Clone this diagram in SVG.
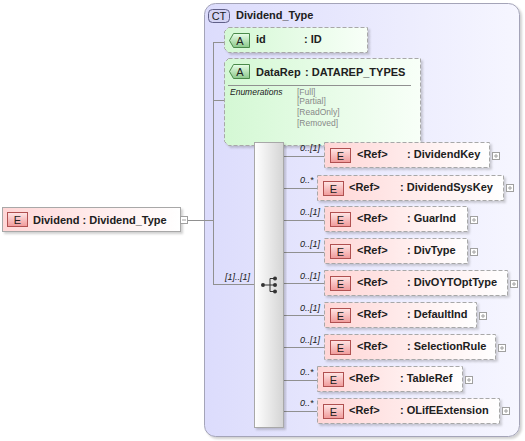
<svg xmlns="http://www.w3.org/2000/svg" width="525" height="441" viewBox="0 0 525 441">
<defs>
<linearGradient id="gCT" x1="0" y1="0" x2="1" y2="0"><stop offset="0" stop-color="#dcdcfc"/><stop offset="1" stop-color="#f6f6ff"/></linearGradient>
<linearGradient id="gEl" x1="0" y1="0" x2="1" y2="0"><stop offset="0" stop-color="#ffd6d6"/><stop offset="1" stop-color="#ffffff"/></linearGradient>
<linearGradient id="gAt" x1="0" y1="0" x2="1" y2="0"><stop offset="0" stop-color="#d4f8d4"/><stop offset="1" stop-color="#f8fff8"/></linearGradient>
<linearGradient id="gEb" x1="0" y1="0" x2="0" y2="1"><stop offset="0" stop-color="#ffe6e6"/><stop offset="1" stop-color="#f09a9a"/></linearGradient>
<linearGradient id="gAb" x1="0" y1="0" x2="0" y2="1"><stop offset="0" stop-color="#e8ffe8"/><stop offset="1" stop-color="#8cc88c"/></linearGradient>
<linearGradient id="gSeq" x1="0" y1="0" x2="1" y2="0"><stop offset="0" stop-color="#ffffff"/><stop offset="1" stop-color="#d4d4d4"/></linearGradient>
<filter id="sh" x="-5%" y="-5%" width="115%" height="120%"><feDropShadow dx="2" dy="2" stdDeviation="1.2" flood-color="#000" flood-opacity="0.18"/></filter>
</defs>
<style>
.t{font-family:"Liberation Sans",Arial,sans-serif;font-size:11px;font-weight:bold;fill:#202020}
.b{font-family:"Liberation Sans",Arial,sans-serif;font-size:11px;fill:#202020}
.m{font-family:"Liberation Sans",Arial,sans-serif;font-size:9px;font-style:italic;fill:#202020}
.en{font-family:"Liberation Sans",Arial,sans-serif;font-size:8.5px;fill:#888888}
.enl{font-family:"Liberation Sans",Arial,sans-serif;font-size:8.5px;font-style:italic;fill:#202020}
.el{fill:url(#gEl);stroke:#a8a8a8;stroke-dasharray:4,2;filter:url(#sh)}
.at{fill:url(#gAt);stroke:#a8a8a8;stroke-dasharray:4,2;filter:url(#sh)}
.eb{fill:url(#gEb);stroke:#b05050;stroke-width:1}
.ab{fill:url(#gAb);stroke:#4a8a4a;stroke-width:1}
.ln{stroke:#909090;stroke-width:1;fill:none}
.pm{fill:#ffffff;stroke:#a0a0a0;stroke-width:1}
.pl{stroke:#a0a0a0;stroke-width:1}
</style>

<g id="ct-Dividend_Type">
<rect x="204.5" y="3.5" width="315" height="433" rx="11" fill="url(#gCT)" stroke="#a4a4b8" filter="url(#sh)"/>
<rect x="208.5" y="9.5" width="21" height="13" rx="4" fill="#d4d4f4" stroke="#606088"/>
<text x="219" y="20" class="b" text-anchor="middle" font-size="10">CT</text>
<text x="236" y="19" class="t">Dividend_Type</text>
</g>

<g id="connectors">
<path class="ln" d="M188 220.5H213.5M213.5 42V284M213 42.5H226M213 100.5H225M213 284.5H254"/>
<path class="ln" d="M283 156.5H324M283 188.5H317M283 220.5H324M283 252.5H324M283 283.5H324M283 315.5H324M283 347.5H324M283 380.5H317M283 411.5H317"/>
</g>

<g id="attr-id">
<path class="at" d="M228.5 27.5H367.5V52.5H228.5L224.5 48.5V31.5Z"/>
<path class="ab" d="M233.5 33.5H249.5V47.5H233.5L229.5 40.5Z"/>
<text x="240" y="45" class="b" text-anchor="middle" font-size="10">A</text>
<text x="256" y="43" class="t">id</text>
<text x="304" y="43" class="t">: ID</text>
</g>

<g id="attr-DataRep">
<path class="at" d="M228.5 58.5H420.5V145.5H228.5L224.5 141.5V62.5Z"/>
<path class="ab" d="M233.5 64.5H249.5V78.5H233.5L229.5 71.5Z"/>
<text x="240" y="76" class="b" text-anchor="middle" font-size="10">A</text>
<text x="256" y="76" class="t">DataRep</text>
<text x="305" y="76" class="t" font-size="11.4">: DATAREP_TYPES</text>
<path d="M228 85.5H411" stroke="#909090"/>
<text x="230" y="95" class="enl">Enumerations</text>
<text x="297" y="95" class="en">[Full]</text>
<text x="297" y="104" class="en">[Partial]</text>
<text x="297" y="115" class="en">[ReadOnly]</text>
<text x="297" y="126" class="en">[Removed]</text>
</g>

<g id="el-Dividend">
<rect x="2.5" y="207.5" width="178" height="24" fill="url(#gEl)" stroke="#a8a8a8" filter="url(#sh)"/>
<rect x="7.5" y="212.5" width="20" height="14" class="eb"/>
<text x="17.5" y="223.5" class="b" text-anchor="middle" font-size="10">E</text>
<text x="33" y="224" class="t" font-size="11.5">Dividend : Dividend_Type</text>
<rect x="180.5" y="216.5" width="7" height="7" class="pm"/>
<path class="pl" d="M182 220H186"/>
</g>

<g id="sequence">
<rect x="254.5" y="142.5" width="29" height="285" fill="url(#gSeq)" stroke="#a8a8a8" filter="url(#sh)"/>
<circle cx="263" cy="285" r="2" fill="#333"/>
<path d="M265 285H275M270 278.5V291.5M270 278.5H275M270 291.5H275" stroke="#333" fill="none"/>
<circle cx="275" cy="278.5" r="2" fill="#333"/>
<circle cx="275" cy="285" r="2" fill="#333"/>
<circle cx="275" cy="291.5" r="2" fill="#333"/>
<text x="225" y="280" class="m">[1]..[1]</text>
</g>

<g id="el-DividendKey">
<text x="300" y="151" class="m">0..[1]</text>
<rect x="324.5" y="142.5" width="165" height="25" class="el"/>
<rect x="330.5" y="148.5" width="20" height="14" class="eb"/>
<text x="340.5" y="159.5" class="b" text-anchor="middle" font-size="10">E</text>
<text x="357" y="158" class="t">&lt;Ref&gt;</text>
<text x="407" y="158" class="t">: DividendKey</text>
<rect x="492.5" y="152.5" width="7" height="7" class="pm"/><path class="pl" d="M494 156H498M496 154V158"/>
</g>

<g id="el-DividendSysKey">
<text x="300" y="183" class="m">0..*</text>
<rect x="317.5" y="175.5" width="186" height="25" class="el"/>
<rect x="323.5" y="181.5" width="20" height="14" class="eb"/>
<text x="333.5" y="192.5" class="b" text-anchor="middle" font-size="10">E</text>
<text x="349" y="191" class="t">&lt;Ref&gt;</text>
<text x="400" y="191" class="t">: DividendSysKey</text>
<rect x="506.5" y="184.5" width="7" height="7" class="pm"/><path class="pl" d="M508 188H512M510 186V190"/>
</g>

<g id="el-GuarInd">
<text x="300" y="215" class="m">0..[1]</text>
<rect x="324.5" y="206.5" width="143" height="25" class="el"/>
<rect x="330.5" y="212.5" width="20" height="14" class="eb"/>
<text x="340.5" y="223.5" class="b" text-anchor="middle" font-size="10">E</text>
<text x="357" y="222" class="t">&lt;Ref&gt;</text>
<text x="407" y="222" class="t">: GuarInd</text>
<rect x="470.5" y="216.5" width="7" height="7" class="pm"/><path class="pl" d="M472 220H476M474 218V222"/>
</g>

<g id="el-DivType">
<text x="300" y="247" class="m">0..[1]</text>
<rect x="324.5" y="238.5" width="143" height="25" class="el"/>
<rect x="330.5" y="244.5" width="20" height="14" class="eb"/>
<text x="340.5" y="255.5" class="b" text-anchor="middle" font-size="10">E</text>
<text x="357" y="254" class="t">&lt;Ref&gt;</text>
<text x="407" y="254" class="t">: DivType</text>
<rect x="470.5" y="248.5" width="7" height="7" class="pm"/><path class="pl" d="M472 252H476M474 250V254"/>
</g>

<g id="el-DivOYTOptType">
<text x="300" y="279" class="m">0..[1]</text>
<rect x="324.5" y="270.5" width="183" height="25" class="el"/>
<rect x="330.5" y="276.5" width="20" height="14" class="eb"/>
<text x="340.5" y="287.5" class="b" text-anchor="middle" font-size="10">E</text>
<text x="357" y="286" class="t">&lt;Ref&gt;</text>
<text x="407" y="286" class="t">: DivOYTOptType</text>
<rect x="510.5" y="280.5" width="7" height="7" class="pm"/><path class="pl" d="M512 284H516M514 282V286"/>
</g>

<g id="el-DefaultInd">
<text x="300" y="311" class="m">0..[1]</text>
<rect x="324.5" y="302.5" width="152" height="25" class="el"/>
<rect x="330.5" y="308.5" width="20" height="14" class="eb"/>
<text x="340.5" y="319.5" class="b" text-anchor="middle" font-size="10">E</text>
<text x="357" y="318" class="t">&lt;Ref&gt;</text>
<text x="407" y="318" class="t">: DefaultInd</text>
<rect x="479.5" y="312.5" width="7" height="7" class="pm"/><path class="pl" d="M481 316H485M483 314V318"/>
</g>

<g id="el-SelectionRule">
<text x="300" y="343" class="m">0..[1]</text>
<rect x="324.5" y="334.5" width="171" height="25" class="el"/>
<rect x="330.5" y="340.5" width="20" height="14" class="eb"/>
<text x="340.5" y="351.5" class="b" text-anchor="middle" font-size="10">E</text>
<text x="357" y="350" class="t">&lt;Ref&gt;</text>
<text x="407" y="350" class="t">: SelectionRule</text>
<rect x="498.5" y="344.5" width="7" height="7" class="pm"/><path class="pl" d="M500 348H504M502 346V350"/>
</g>

<g id="el-TableRef">
<text x="300" y="375" class="m">0..*</text>
<rect x="317.5" y="366.5" width="145" height="25" class="el"/>
<rect x="323.5" y="372.5" width="20" height="14" class="eb"/>
<text x="333.5" y="383.5" class="b" text-anchor="middle" font-size="10">E</text>
<text x="349" y="382" class="t">&lt;Ref&gt;</text>
<text x="400" y="382" class="t">: TableRef</text>
<rect x="465.5" y="376.5" width="7" height="7" class="pm"/><path class="pl" d="M467 380H471M469 378V382"/>
</g>

<g id="el-OLifEExtension">
<text x="300" y="406" class="m">0..*</text>
<rect x="317.5" y="398.5" width="182" height="25" class="el"/>
<rect x="323.5" y="404.5" width="20" height="14" class="eb"/>
<text x="333.5" y="415.5" class="b" text-anchor="middle" font-size="10">E</text>
<text x="349" y="414" class="t">&lt;Ref&gt;</text>
<text x="400" y="414" class="t">: OLifEExtension</text>
<rect x="502.5" y="407.5" width="7" height="7" class="pm"/><path class="pl" d="M504 411H508M506 409V413"/>
</g>
</svg>
